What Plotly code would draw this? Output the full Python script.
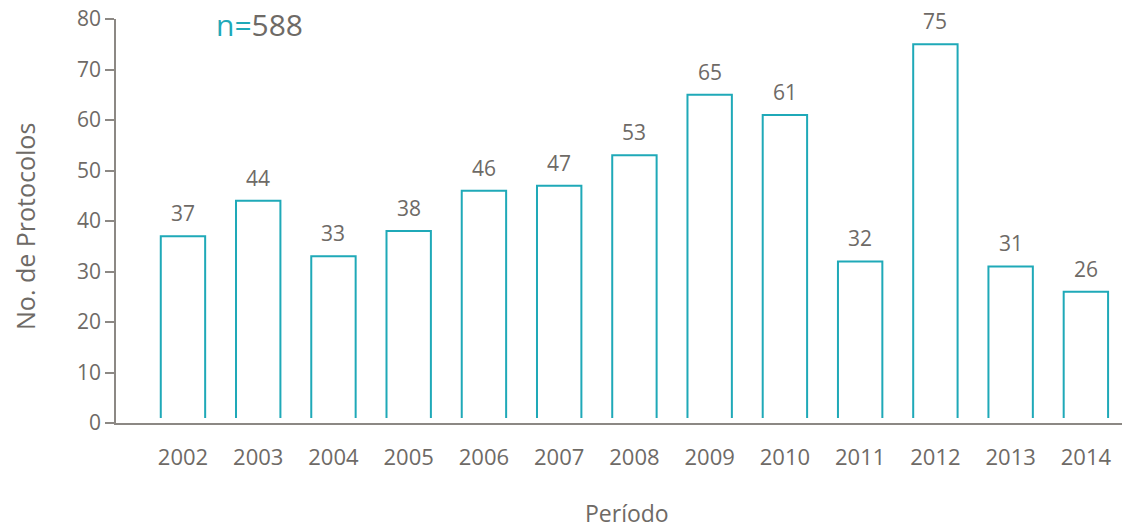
import plotly.graph_objects as go

years = ["2002", "2003", "2004", "2005", "2006", "2007", "2008",
         "2009", "2010", "2011", "2012", "2013", "2014"]
values = [37, 44, 33, 38, 46, 47, 53, 65, 61, 32, 75, 31, 26]
total_label = "588"
y_ticks = [0, 10, 20, 30, 40, 50, 60, 70, 80]

TEAL = "#1fa9b8"
GREY = "#6e6a66"
AXIS = "#8c8884"
FONT = "Open Sans"
BAR_W = 0.59
BAR_BASE = 1.0

idx = list(range(len(years)))

# open-bottom bar outlines built from the data
xs, ys = [], []
for i, v in zip(idx, values):
    xs += [i - BAR_W / 2, i - BAR_W / 2, i + BAR_W / 2, i + BAR_W / 2, None]
    ys += [BAR_BASE, v, v, BAR_BASE, None]

fig = go.Figure()
fig.add_trace(go.Bar(x=idx, y=values, width=BAR_W,
                     marker=dict(color="white", line=dict(width=0)),
                     hoverinfo="x+y", showlegend=False))
fig.add_trace(go.Scatter(x=xs, y=ys, mode="lines",
                         line=dict(color=TEAL, width=2),
                         hoverinfo="skip", showlegend=False))

for i, v in zip(idx, values):
    fig.add_annotation(x=i, y=v, text=str(v), showarrow=False,
                       yanchor="bottom", yshift=7,
                       font=dict(family=FONT, size=21, color=GREY))

fig.add_annotation(xref="paper", yref="paper", x=0.097, y=0.9876,
                   xanchor="left", yanchor="middle", showarrow=False,
                   text=f"<span style='color:{TEAL}'>n=</span>{total_label}",
                   font=dict(family=FONT, size=30, color=GREY))

fig.add_annotation(xref="paper", yref="paper", x=0.508, y=-0.2227,
                   xanchor="center", yanchor="middle", showarrow=False,
                   text="Período",
                   font=dict(family=FONT, size=23, color=GREY))

fig.add_annotation(xref="paper", yref="paper", x=-0.0905, y=0.4876,
                   xanchor="center", yanchor="middle", showarrow=False,
                   textangle=-90, text="No. de Protocolos",
                   font=dict(family=FONT, size=25, color=GREY))

fig.update_layout(
    width=1122, height=531,
    margin=dict(l=116, r=0, t=19, b=108, autoexpand=False),
    plot_bgcolor="white", paper_bgcolor="white",
    font=dict(family=FONT, color=GREY, size=20),
    bargap=0.4,
)
fig.update_xaxes(
    range=[-0.89, 12.48],
    tickmode="array", tickvals=idx, ticktext=years,
    showline=True, linecolor=AXIS, linewidth=1.5,
    showgrid=False, zeroline=False, ticks="",
    ticklabelstandoff=14,
    tickfont=dict(family=FONT, size=22, color=GREY),
)
fig.update_yaxes(
    range=[0, 80],
    tickmode="array", tickvals=y_ticks,
    showline=True, linecolor=AXIS, linewidth=1.5,
    showgrid=False, zeroline=False,
    ticks="outside", ticklen=9, tickcolor=AXIS, tickwidth=1.5,
    tickfont=dict(family=FONT, size=21, color=GREY),
)

fig.write_html(
    "out.html",
    config={"displayModeBar": False},
    post_script="document.body.style.margin='0';document.body.style.overflow='hidden';",
)
